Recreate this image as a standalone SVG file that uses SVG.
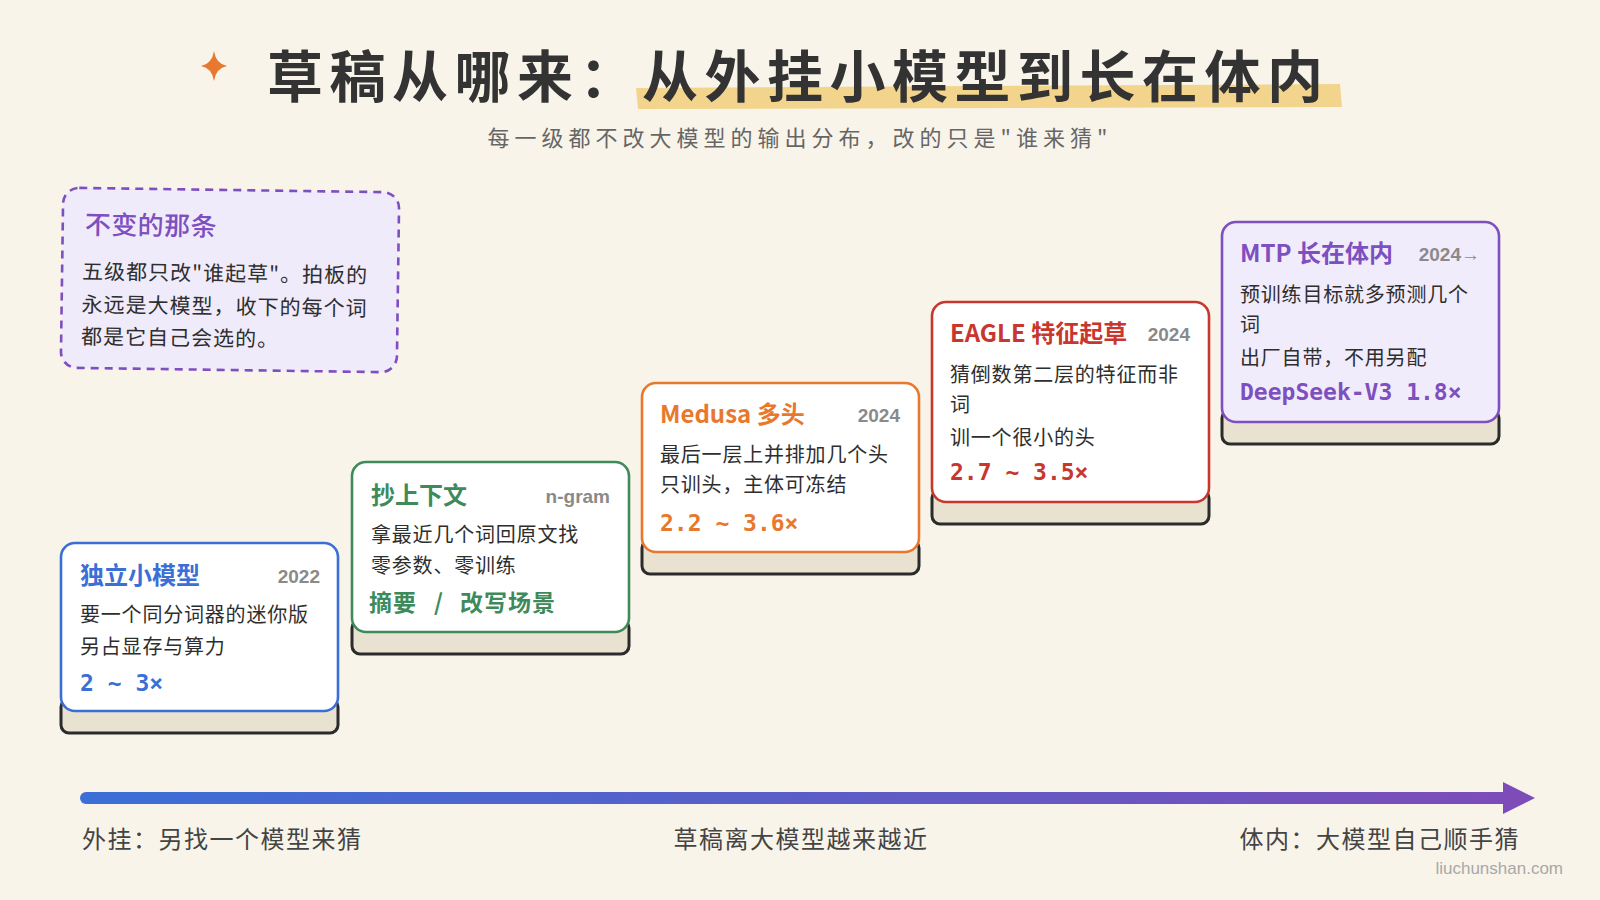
<svg xmlns="http://www.w3.org/2000/svg" width="1600" height="900" viewBox="0 0 1600 900">
<defs>
<linearGradient id="arrowGrad" gradientUnits="userSpaceOnUse" x1="82" y1="0" x2="1535" y2="0">
<stop offset="0" stop-color="#3b6fd6"/>
<stop offset="1" stop-color="#7d4cb8"/>
</linearGradient>
<style>
.cjk{font-family:"Noto Sans CJK SC","Noto Sans",sans-serif;}
.title{font-size:56px;font-weight:700;fill:#333;letter-spacing:6.5px;}
.sub{font-size:22px;fill:#666;letter-spacing:5px;}
.base{fill:#e9e2d0;stroke:#2b2b2b;stroke-width:3;}
.card{stroke-width:2.6;}
.ct{font-size:24px;font-weight:700;}
.yr{font-family:"Liberation Sans",Arial,sans-serif;font-size:19px;font-weight:700;fill:#8a8a8a;text-anchor:end;}
.body{font-size:20px;fill:#2e2e2e;letter-spacing:0.8px;}
.nbody{font-size:21px;fill:#2e2e2e;letter-spacing:1px;}
.stat{font-family:"DejaVu Sans Mono","Liberation Mono",monospace;font-size:23px;font-weight:700;}
.statc{font-size:23px;font-weight:700;letter-spacing:1px;}
.axis{font-size:24px;fill:#444;letter-spacing:1.5px;}
</style>
</defs>
<rect width="1600" height="900" fill="#f8f4ea"/>

<g id="title">
<path d="M214,51 Q216,64 227,66 Q216,68 214,81 Q212,68 201,66 Q212,64 214,51 Z" fill="#e8782e"/>
<path d="M636,88 L1340,84 L1342,107 L638,109 Z" fill="#f3d48c"/>
<text class="cjk title" x="267" y="97">草稿从哪来：从外挂小模型到长在体内</text>
<text class="cjk sub" x="800" y="146" text-anchor="middle">每一级都不改大模型的输出分布，改的只是"谁来猜"</text>
</g>

<g id="note" transform="rotate(0.8 229 280)">
<rect x="62" y="190" width="336" height="180" rx="16" fill="#f0ebfa" stroke="#7d4fc0" stroke-width="2.6" stroke-dasharray="8 6"/>
<text class="cjk" x="84" y="236" font-size="26" fill="#7d4fc0" font-weight="500" letter-spacing="0.5">不变的那条</text>
<text class="cjk nbody" x="82" y="281">五级都只改"谁起草"。拍板的</text>
<text class="cjk nbody" x="82" y="314">永远是大模型，收下的每个词</text>
<text class="cjk nbody" x="82" y="346">都是它自己会选的。</text>
</g>

<g id="card1" transform="translate(61,543)">
<rect class="base" x="0" y="156" width="277" height="34" rx="8"/>
<rect class="card" x="0" y="0" width="277" height="168" rx="14" fill="#ffffff" stroke="#3b6fd6"/>
<text class="cjk ct" x="19" y="41" fill="#3b6fd6">独立小模型</text>
<text class="yr" x="259" y="40">2022</text>
<text class="cjk body" x="19" y="79">要一个同分词器的迷你版</text>
<text class="cjk body" x="19" y="111">另占显存与算力</text>
<text class="stat" x="19" y="148" fill="#3b6fd6">2 ~ 3×</text>
</g>

<g id="card2" transform="translate(352,462)">
<rect class="base" x="0" y="158" width="277" height="34" rx="8"/>
<rect class="card" x="0" y="0" width="277" height="170" rx="14" fill="#ffffff" stroke="#3e8a5a"/>
<text class="cjk ct" x="19" y="42" fill="#3e8a5a">抄上下文</text>
<text class="yr" x="258" y="41">n-gram</text>
<text class="cjk body" x="19" y="80">拿最近几个词回原文找</text>
<text class="cjk body" x="19" y="111">零参数、零训练</text>
<text class="cjk statc" y="149" fill="#3e8a5a"><tspan x="17">摘要</tspan><tspan x="82">/</tspan><tspan x="108">改写场景</tspan></text>
</g>

<g id="card3" transform="translate(642,383)">
<rect class="base" x="0" y="157" width="277" height="34" rx="8"/>
<rect class="card" x="0" y="0" width="277" height="169" rx="14" fill="#ffffff" stroke="#e8782e"/>
<text class="cjk ct" x="18" y="40" fill="#e8782e">Medusa 多头</text>
<text class="yr" x="258" y="39">2024</text>
<text class="cjk body" x="18" y="79">最后一层上并排加几个头</text>
<text class="cjk body" x="18" y="109">只训头，主体可冻结</text>
<text class="stat" x="18" y="148" fill="#e8782e">2.2 ~ 3.6×</text>
</g>

<g id="card4" transform="translate(932,302)">
<rect class="base" x="0" y="188" width="277" height="34" rx="8"/>
<rect class="card" x="0" y="0" width="277" height="200" rx="14" fill="#ffffff" stroke="#c8372d"/>
<text class="cjk ct" x="18" y="40" fill="#c8372d">EAGLE 特征起草</text>
<text class="yr" x="258" y="39">2024</text>
<text class="cjk body" x="18" y="80">猜倒数第二层的特征而非</text>
<text class="cjk body" x="18" y="110">词</text>
<text class="cjk body" x="18" y="143">训一个很小的头</text>
<text class="stat" x="18" y="178" fill="#c8372d">2.7 ~ 3.5×</text>
</g>

<g id="card5" transform="translate(1222,222)">
<rect class="base" x="0" y="188" width="277" height="34" rx="8"/>
<rect class="card" x="0" y="0" width="277" height="200" rx="14" fill="#f1ecfb" stroke="#7d4fc0"/>
<text class="cjk ct" x="18" y="40" fill="#7d4fc0">MTP 长在体内</text>
<text class="yr" x="258" y="39">2024→</text>
<text class="cjk body" x="18" y="80">预训练目标就多预测几个</text>
<text class="cjk body" x="18" y="110">词</text>
<text class="cjk body" x="18" y="143">出厂自带，不用另配</text>
<text class="stat" x="18" y="178" fill="#7d4fc0">DeepSeek-V3 1.8×</text>
</g>

<g id="connectors">
<line x1="86" y1="798" x2="1508" y2="798" stroke="url(#arrowGrad)" stroke-width="12" stroke-linecap="round"/>
<polygon points="1503,782 1535,798 1503,814" fill="#7d4cb8"/>
</g>

<g id="axis-labels">
<text class="cjk axis" x="82" y="848">外挂：另找一个模型来猜</text>
<text class="cjk axis" x="801" y="848" text-anchor="middle">草稿离大模型越来越近</text>
<text class="cjk axis" x="1520" y="848" text-anchor="end">体内：大模型自己顺手猜</text>
<text x="1563" y="874" text-anchor="end" font-family="Liberation Sans, Arial, sans-serif" font-size="17" fill="#a8a8a8">liuchunshan.com</text>
</g>
</svg>
